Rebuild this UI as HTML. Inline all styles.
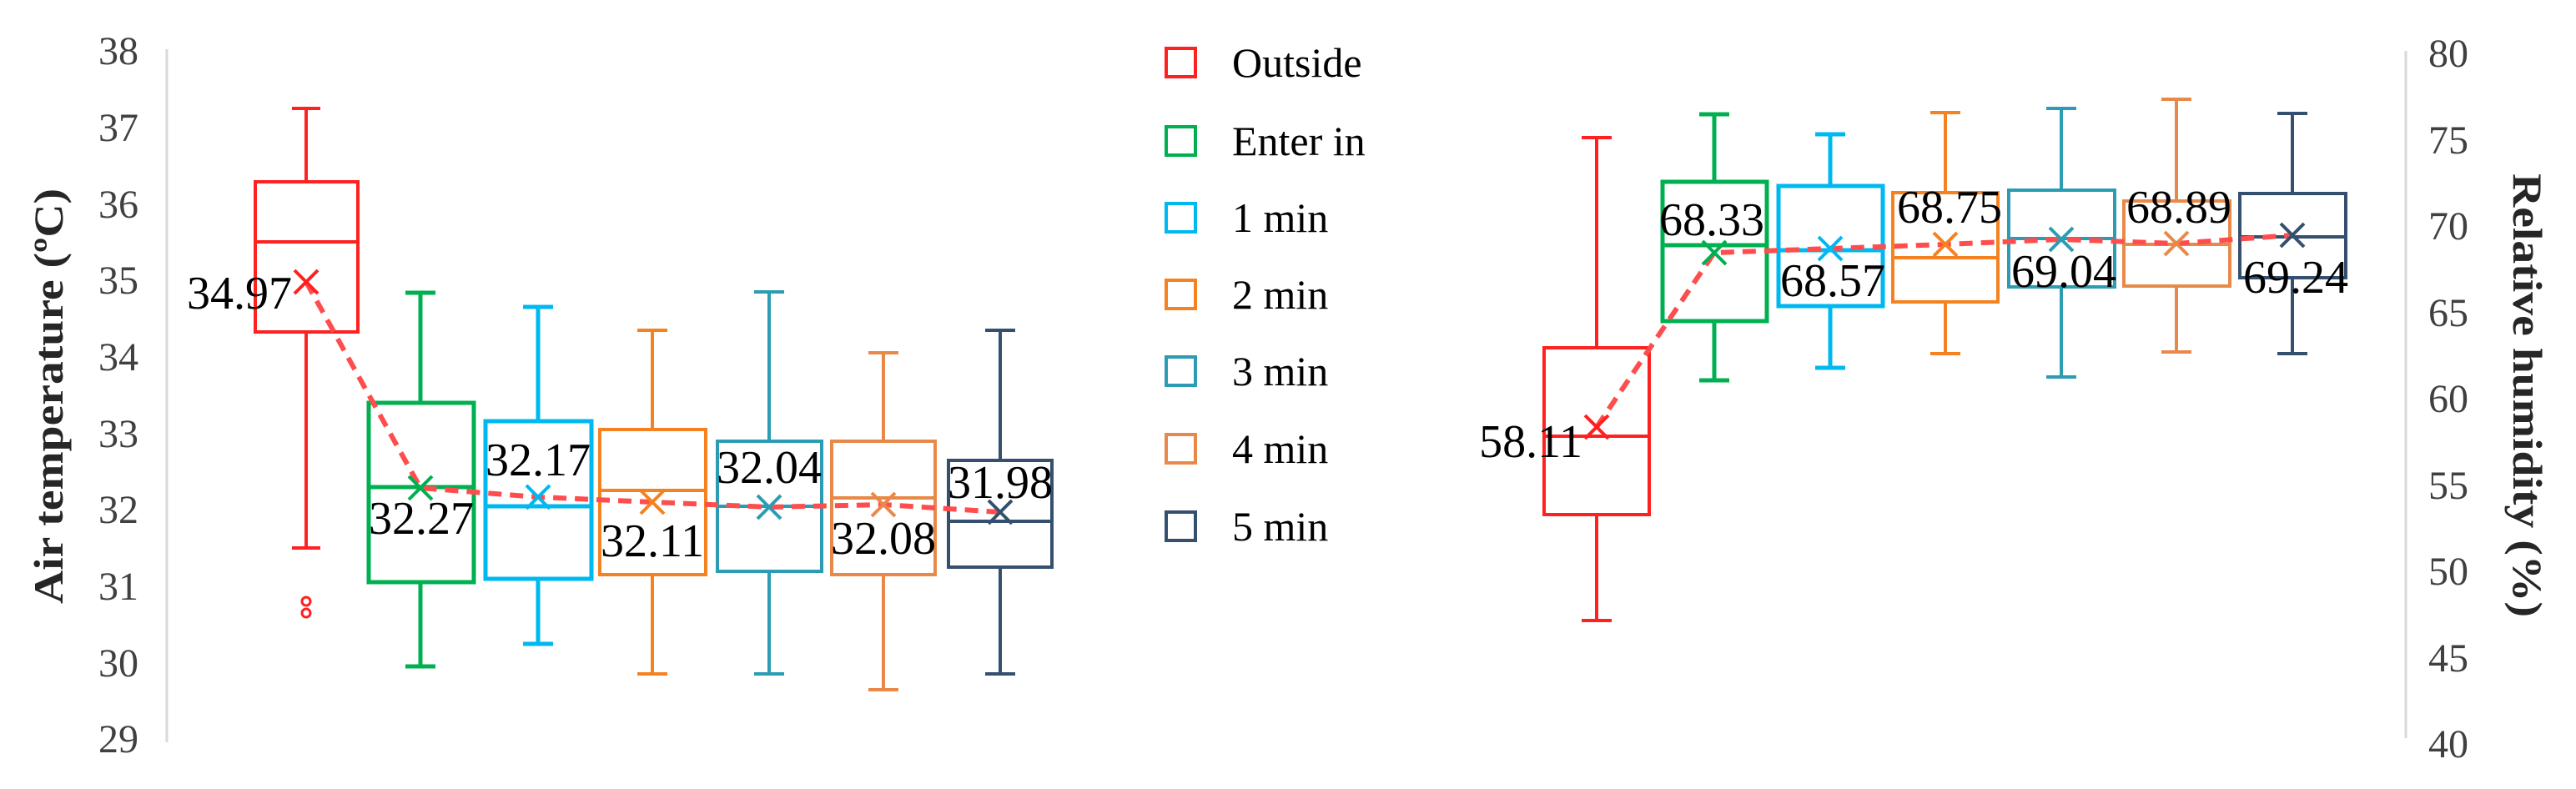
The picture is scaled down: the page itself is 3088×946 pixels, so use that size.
<!DOCTYPE html>
<html><head><meta charset="utf-8"><style>
html,body{margin:0;padding:0;background:#fff;}
svg{display:block;}
text{font-family:"Liberation Serif",serif;}
</style></head><body>
<svg width="3088" height="946" viewBox="0 0 3088 946" xmlns="http://www.w3.org/2000/svg">
<rect width="3088" height="946" fill="#fff"/>
<!-- left axis -->
<line x1="200" y1="59" x2="200" y2="890" stroke="#d9d9d9" stroke-width="3"/>
<g font-size="48" fill="#404040" text-anchor="end">
<text x="166" y="77">38</text><text x="166" y="169">37</text><text x="166" y="261">36</text>
<text x="166" y="352">35</text><text x="166" y="444">34</text><text x="166" y="536">33</text>
<text x="166" y="627">32</text><text x="166" y="719">31</text><text x="166" y="811">30</text>
<text x="166" y="902">29</text>
</g>
<text transform="translate(75,724) rotate(-90)" font-size="50" font-weight="bold" fill="#262626" textLength="498" lengthAdjust="spacingAndGlyphs">Air temperature (ºC)</text>

<!-- left boxes -->
<g fill="none" stroke-width="4">
<g stroke="#ff2020">
<line x1="367" y1="130" x2="367" y2="218"/><line x1="350" y1="130" x2="384" y2="130"/>
<rect x="306" y="218" width="123" height="180"/><line x1="306" y1="290" x2="429" y2="290"/>
<line x1="367" y1="398" x2="367" y2="657"/><line x1="350" y1="657" x2="384" y2="657"/>
<circle cx="367" cy="721" r="5" stroke-width="3"/><circle cx="367" cy="735" r="5" stroke-width="3"/>
</g>
<g stroke="#00b050" stroke-width="5">
<line x1="504" y1="351" x2="504" y2="483"/><line x1="486" y1="351" x2="522" y2="351"/>
<rect x="442" y="483" width="126" height="215"/><line x1="442" y1="584" x2="568" y2="584"/>
<line x1="504" y1="698" x2="504" y2="799"/><line x1="486" y1="799" x2="522" y2="799"/>
</g>
<g stroke="#00b8f0" stroke-width="5">
<line x1="645" y1="368" x2="645" y2="505"/><line x1="627" y1="368" x2="663" y2="368"/>
<rect x="582" y="505" width="127" height="189"/><line x1="582" y1="607" x2="709" y2="607"/>
<line x1="645" y1="694" x2="645" y2="772"/><line x1="627" y1="772" x2="663" y2="772"/>
</g>
<g stroke="#f58220">
<line x1="782" y1="396" x2="782" y2="515"/><line x1="764" y1="396" x2="800" y2="396"/>
<rect x="719" y="515" width="127" height="174"/><line x1="719" y1="588" x2="846" y2="588"/>
<line x1="782" y1="689" x2="782" y2="808"/><line x1="764" y1="808" x2="800" y2="808"/>
</g>
<g stroke="#2b9cb3">
<line x1="922" y1="350" x2="922" y2="529"/><line x1="904" y1="350" x2="940" y2="350"/>
<rect x="860" y="529" width="125" height="156"/><line x1="860" y1="607" x2="985" y2="607"/>
<line x1="922" y1="685" x2="922" y2="808"/><line x1="904" y1="808" x2="940" y2="808"/>
</g>
<g stroke="#e8894a">
<line x1="1059" y1="423" x2="1059" y2="529"/><line x1="1041" y1="423" x2="1077" y2="423"/>
<rect x="997" y="529" width="124" height="160"/><line x1="997" y1="597" x2="1121" y2="597"/>
<line x1="1059" y1="689" x2="1059" y2="827"/><line x1="1041" y1="827" x2="1077" y2="827"/>
</g>
<g stroke="#34506e">
<line x1="1199" y1="396" x2="1199" y2="552"/><line x1="1181" y1="396" x2="1217" y2="396"/>
<rect x="1137" y="552" width="124" height="128"/><line x1="1137" y1="625" x2="1261" y2="625"/>
<line x1="1199" y1="680" x2="1199" y2="808"/><line x1="1181" y1="808" x2="1217" y2="808"/>
</g>
</g>
<!-- left mean line -->
<polyline points="367,338 504,585 645,596 782,602 922,608 1059,605 1199,614" fill="none" stroke="#ff4d4d" stroke-width="6" stroke-dasharray="16,10"/>
<g stroke-width="4" fill="none">
<path d="M353,324 L381,352 M381,324 L353,352" stroke="#ff2020"/>
<path d="M490,571 L518,599 M518,571 L490,599" stroke="#00b050"/>
<path d="M631,582 L659,610 M659,582 L631,610" stroke="#00b8f0"/>
<path d="M768,588 L796,616 M796,588 L768,616" stroke="#f58220"/>
<path d="M908,594 L936,622 M936,594 L908,622" stroke="#2b9cb3"/>
<path d="M1045,591 L1073,619 M1073,591 L1045,619" stroke="#e8894a"/>
<path d="M1185,600 L1213,628 M1213,600 L1185,628" stroke="#34506e"/>
</g>
<g font-size="56" fill="#000" text-anchor="middle">
<text x="350" y="370" text-anchor="end">34.97</text>
<text x="505" y="640">32.27</text>
<text x="645" y="570">32.17</text>
<text x="782" y="667">32.11</text>
<text x="922" y="579">32.04</text>
<text x="1059" y="664">32.08</text>
<text x="1199" y="597">31.98</text>
</g>

<!-- legend -->
<g fill="none" stroke-width="4">
<rect x="1398" y="58" width="35" height="34" stroke="#ff2020"/>
<rect x="1398" y="152" width="35" height="34" stroke="#00b050"/>
<rect x="1398" y="244" width="35" height="34" stroke="#00b8f0"/>
<rect x="1398" y="336" width="35" height="34" stroke="#f58220"/>
<rect x="1398" y="428" width="35" height="34" stroke="#2b9cb3"/>
<rect x="1398" y="521" width="35" height="34" stroke="#e8894a"/>
<rect x="1398" y="614" width="35" height="34" stroke="#34506e"/>
</g>
<g font-size="50" fill="#000">
<text x="1477" y="92">Outside</text>
<text x="1477" y="186">Enter in</text>
<text x="1477" y="278">1 min</text>
<text x="1477" y="370">2 min</text>
<text x="1477" y="462">3 min</text>
<text x="1477" y="555">4 min</text>
<text x="1477" y="648">5 min</text>
</g>

<!-- right axis -->
<line x1="2884" y1="61" x2="2884" y2="885" stroke="#d9d9d9" stroke-width="3"/>
<g font-size="48" fill="#404040">
<text x="2911" y="80">80</text><text x="2911" y="184">75</text><text x="2911" y="287">70</text>
<text x="2911" y="391">65</text><text x="2911" y="494">60</text><text x="2911" y="598">55</text>
<text x="2911" y="701">50</text><text x="2911" y="805">45</text><text x="2911" y="908">40</text>
</g>
<text transform="translate(3013,208) rotate(90)" font-size="50" font-weight="bold" fill="#262626" textLength="532" lengthAdjust="spacingAndGlyphs">Relative humidity (%)</text>

<!-- right boxes -->
<g fill="none" stroke-width="4">
<g stroke="#ff2020">
<line x1="1914" y1="165" x2="1914" y2="417"/><line x1="1896" y1="165" x2="1932" y2="165"/>
<rect x="1851" y="417" width="126" height="200"/><line x1="1851" y1="523" x2="1977" y2="523"/>
<line x1="1914" y1="617" x2="1914" y2="744"/><line x1="1896" y1="744" x2="1932" y2="744"/>
</g>
<g stroke="#00b050" stroke-width="5">
<line x1="2055" y1="137" x2="2055" y2="218"/><line x1="2037" y1="137" x2="2073" y2="137"/>
<rect x="1993" y="218" width="125" height="167"/><line x1="1993" y1="294" x2="2118" y2="294"/>
<line x1="2055" y1="385" x2="2055" y2="456"/><line x1="2037" y1="456" x2="2073" y2="456"/>
</g>
<g stroke="#00b8f0" stroke-width="5">
<line x1="2194" y1="161" x2="2194" y2="223"/><line x1="2176" y1="161" x2="2212" y2="161"/>
<rect x="2132" y="223" width="125" height="144"/><line x1="2132" y1="300" x2="2257" y2="300"/>
<line x1="2194" y1="367" x2="2194" y2="441"/><line x1="2176" y1="441" x2="2212" y2="441"/>
</g>
<g stroke="#f58220">
<line x1="2332" y1="135" x2="2332" y2="231"/><line x1="2314" y1="135" x2="2350" y2="135"/>
<rect x="2269" y="231" width="126" height="131"/><line x1="2269" y1="309" x2="2395" y2="309"/>
<line x1="2332" y1="362" x2="2332" y2="424"/><line x1="2314" y1="424" x2="2350" y2="424"/>
</g>
<g stroke="#2b9cb3">
<line x1="2471" y1="130" x2="2471" y2="228"/><line x1="2453" y1="130" x2="2489" y2="130"/>
<rect x="2408" y="228" width="127" height="116"/><line x1="2408" y1="286" x2="2535" y2="286"/>
<line x1="2471" y1="344" x2="2471" y2="452"/><line x1="2453" y1="452" x2="2489" y2="452"/>
</g>
<g stroke="#e8894a">
<line x1="2609" y1="119" x2="2609" y2="241"/><line x1="2591" y1="119" x2="2627" y2="119"/>
<rect x="2546" y="241" width="127" height="102"/><line x1="2546" y1="293" x2="2673" y2="293"/>
<line x1="2609" y1="343" x2="2609" y2="422"/><line x1="2591" y1="422" x2="2627" y2="422"/>
</g>
<g stroke="#34506e">
<line x1="2748" y1="136" x2="2748" y2="232"/><line x1="2730" y1="136" x2="2766" y2="136"/>
<rect x="2685" y="232" width="127" height="101"/><line x1="2685" y1="284" x2="2812" y2="284"/>
<line x1="2748" y1="333" x2="2748" y2="424"/><line x1="2730" y1="424" x2="2766" y2="424"/>
</g>
</g>
<polyline points="1914,512 2055,303 2194,298 2332,293 2471,287 2609,292 2748,282" fill="none" stroke="#ff4d4d" stroke-width="6" stroke-dasharray="16,10"/>
<g stroke-width="4" fill="none">
<path d="M1900,498 L1928,526 M1928,498 L1900,526" stroke="#ff2020"/>
<path d="M2041,289 L2069,317 M2069,289 L2041,317" stroke="#00b050"/>
<path d="M2180,284 L2208,312 M2208,284 L2180,312" stroke="#00b8f0"/>
<path d="M2318,279 L2346,307 M2346,279 L2318,307" stroke="#f58220"/>
<path d="M2457,273 L2485,301 M2485,273 L2457,301" stroke="#2b9cb3"/>
<path d="M2595,278 L2623,306 M2623,278 L2595,306" stroke="#e8894a"/>
<path d="M2734,268 L2762,296 M2762,268 L2734,296" stroke="#34506e"/>
</g>
<g font-size="56" fill="#000" text-anchor="middle">
<text x="1897" y="548" text-anchor="end">58.11</text>
<text x="2052" y="282">68.33</text>
<text x="2197" y="355">68.57</text>
<text x="2337" y="267">68.75</text>
<text x="2474" y="344">69.04</text>
<text x="2612" y="267">68.89</text>
<text x="2752" y="351">69.24</text>
</g>
</svg>
</body></html>
